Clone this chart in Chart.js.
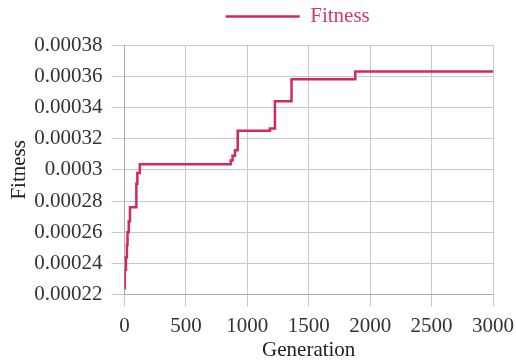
<!DOCTYPE html>
<html>
<head>
<meta charset="utf-8">
<script src="https://cdn.jsdelivr.net/npm/chart.js@4.4.1/dist/chart.umd.min.js"></script>
<style>
  html, body { margin: 0; padding: 0; background: #ffffff; }
  #wrap { width: 516px; height: 363px; position: relative; }
</style>
</head>
<body>
<div id="wrap"><canvas id="chart"></canvas></div>
<script>
// Best fitness found so far, recorded at the generations where it improved
const generations = [0, 3, 12, 20, 25, 35, 45, 97, 105, 125, 865, 880, 900, 922, 1184, 1225, 1360, 1879, 3000];
const fitness = [0.000224, 0.000236, 0.000244, 0.000252, 0.00026, 0.000267, 0.000276, 0.000291, 0.000298, 0.0003035,
                 0.000306, 0.000309, 0.0003125, 0.000325, 0.0003265, 0.000344, 0.000358, 0.000363, 0.000363];

const xTicks = [0, 500, 1000, 1500, 2000, 2500, 3000];
const yTicks = [0.00022, 0.00024, 0.00026, 0.00028, 0.0003, 0.00032, 0.00034, 0.00036, 0.00038];

const seriesName = 'Fitness';
const xTitle = 'Generation';
const yTitle = 'Fitness';

const lineColor = '#d6265e';
const legendTextColor = '#d23a72';
const gridColor = '#c9c9c9';
const serif = '"Liberation Serif", "Times New Roman", serif';

const points = generations.map((g, i) => ({ x: g, y: fitness[i] }));

// Centre the legend over the plotting area and lift it a little towards the top edge
const legendOverPlot = {
  id: 'legendOverPlot',
  afterLayout(chart) {
    const lg = chart.legend;
    if (!lg) return;
    lg.left = chart.chartArea.left - 11;
    lg.right = chart.chartArea.right - 11;
    lg.top -= 8;
  }
};

new Chart(document.getElementById('chart'), {
  type: 'line',
  data: {
    datasets: [{
      label: seriesName,
      data: points,
      borderColor: lineColor,
      backgroundColor: lineColor,
      borderWidth: 2.5,
      stepped: 'before',
      pointRadius: 0,
      fill: false
    }]
  },
  plugins: [legendOverPlot],
  options: {
    responsive: true,
    maintainAspectRatio: false,
    animation: false,
    layout: { padding: { left: 7, right: 0, top: 2, bottom: 0 } },
    plugins: {
      tooltip: { enabled: false },
      legend: {
        display: true,
        position: 'top',
        labels: {
          boxWidth: 74,
          boxHeight: 0,
          padding: 12,
          color: legendTextColor,
          font: { family: serif, size: 21 }
        }
      }
    },
    scales: {
      x: {
        type: 'linear',
        min: 0,
        max: 3000,
        afterBuildTicks(axis) { axis.ticks = xTicks.map(v => ({ value: v })); },
        // let the last tick label run a little closer to the right edge
        afterFit(axis) { axis.paddingRight = 23; },
        ticks: {
          color: '#333333',
          font: { family: serif, size: 21 },
          padding: 7,
          maxRotation: 0,
          callback: v => String(v)
        },
        grid: { color: gridColor, lineWidth: 1, tickLength: 12 },
        border: { color: '#aaaaaa' },
        title: {
          display: true,
          text: xTitle,
          color: '#222222',
          font: { family: serif, size: 21 },
          padding: { top: -8, bottom: 0 }
        }
      },
      y: {
        type: 'linear',
        min: 0.00022,
        max: 0.00038,
        afterBuildTicks(axis) { axis.ticks = yTicks.map(v => ({ value: v })); },
        ticks: {
          color: '#333333',
          font: { family: serif, size: 21 },
          padding: 9,
          callback: v => String(Number(v.toPrecision(3)))
        },
        grid: { color: gridColor, lineWidth: 1, tickLength: 13 },
        border: { color: '#aaaaaa' },
        title: {
          display: true,
          text: yTitle,
          color: '#222222',
          font: { family: serif, size: 21 },
          padding: { top: 0, bottom: -7 }
        }
      }
    }
  }
});
</script>
</body>
</html>
